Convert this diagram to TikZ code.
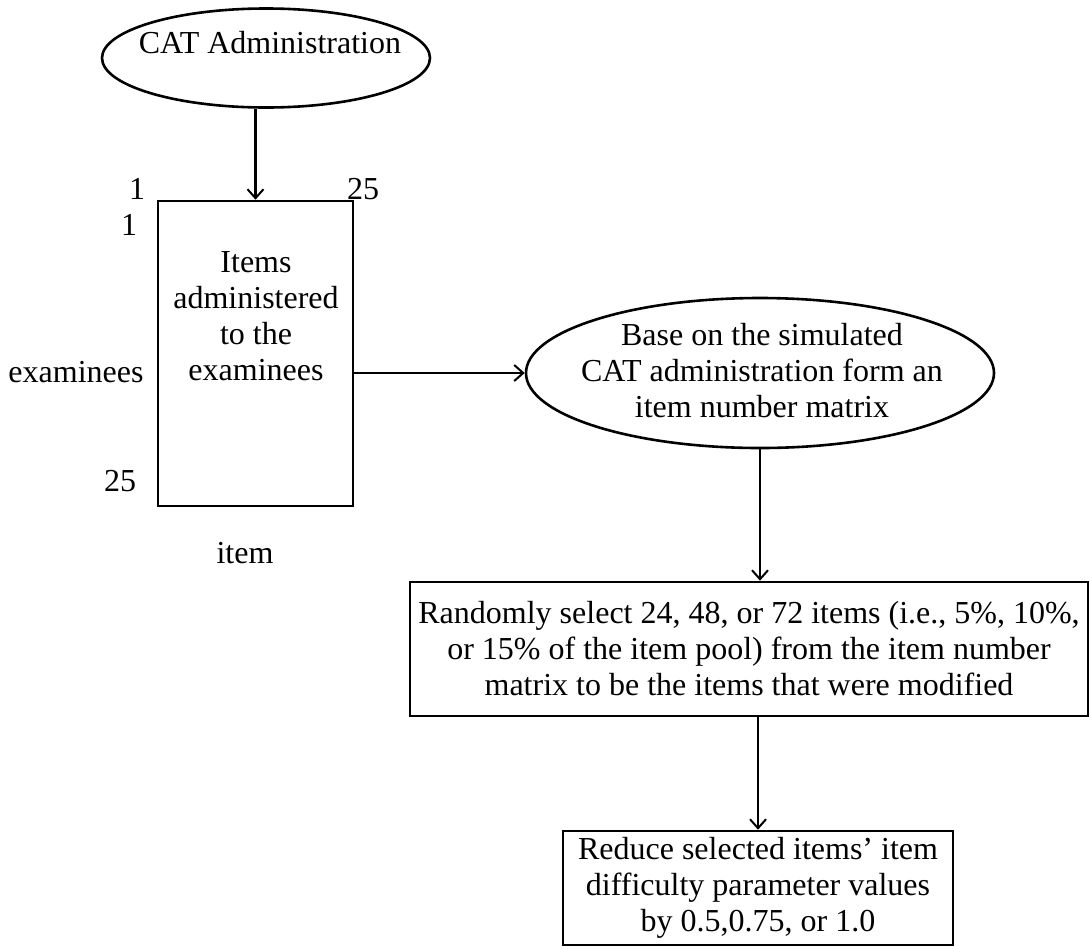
\documentclass[tikz,border=0pt]{standalone}
\usepackage{fontspec}
\setmainfont{Liberation Serif}
\usetikzlibrary{shapes.geometric, arrows.meta}

\begin{document}
\begin{tikzpicture}[x = 0.5pt, y = -0.5pt, > = {Straight Barb[length = 4.5pt, width = 8pt, line width = 1pt]},
	txt/.style = {font = \fontsize{16pt}{18pt}\selectfont, align = center, inner sep = 0pt},
	oval/.style = {draw, ellipse, line width = 1.3pt, inner sep = 0pt},
	box/.style = {draw, rectangle, line width = 1.3pt, inner sep = 0pt, align = center, font = \fontsize{16pt}{18pt}\selectfont},
	flow/.style = {line width = 1.1pt, ->}]
	 \useasboundingbox (0, 0) rectangle (1090, 948);
	 
	 \node[oval, minimum width = 164pt, minimum height = 49.5pt] (cat) at (266, 58) {};
	 \node[txt] (cattext) at (270, 43) {CAT Administration};
	 
	 \node[box, minimum width = 97.5pt, minimum height = 152.5pt] (items) at (255.5, 353.5) {};
	 \node[txt] (itemstext) at (256, 316) {Items\\administered\\to the\\examinees};
	 
	 \node[txt] (rowone) at (137, 189) {1};
	 \node[txt] (rowlast) at (363, 189) {25};
	 \node[txt] (colone) at (129, 225) {1};
	 \node[txt] (collast) at (120, 481) {25};
	 \node[txt] (examinees) at (76, 372) {examinees};
	 \node[txt] (item) at (245, 553) {item};
	 
	 \node[oval, minimum width = 234pt, minimum height = 75pt] (base) at (760, 373) {};
	 \node[txt] (basetext) at (762, 371) {Base on the simulated\\CAT administration form an\\item number matrix};
	 
	 \node[box, minimum width = 339pt, minimum height = 67pt] (select) at (749, 649) {Randomly select 24, 48, or 72 items (i.e., 5\%, 10\%,\\or 15\% of the item pool) from the item number\\matrix to be the items that were modified};
	 
	 \node[box, minimum width = 195pt, minimum height = 57pt] (reduce) at (758, 888) {Reduce selected items’ item\\difficulty parameter values\\by 0.5,0.75, or 1.0};
	 
	 \draw[flow] (cat.south -| items.north) -- (items.north);
	 \draw[flow] (items.east |- base.west) -- (base.west);
	 \draw[flow] (base.south) -- (base.south |- select.north);
	 \draw[flow] (select.south -| reduce.north) -- (reduce.north);
\end{tikzpicture}
\end{document}
